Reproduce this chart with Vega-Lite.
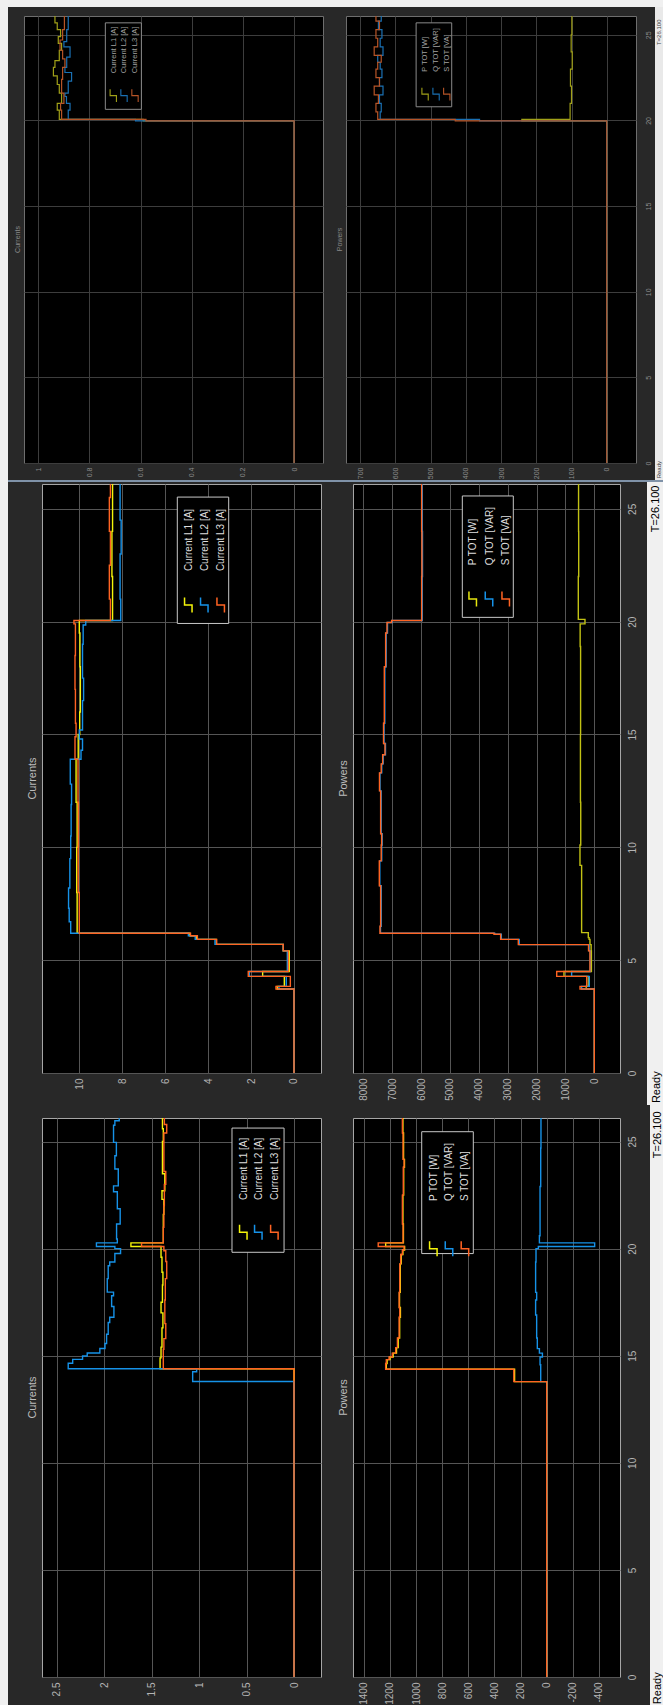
{
"$schema": "https://vega.github.io/schema/vega-lite/v6.json",
"background": "#282828",
"padding": 0,
"spacing": 0,
"config": {"view": {"stroke": null}, "font": "Liberation Sans", "axis": {"labelOverlap": false, "labelBound": false}},
"datasets": {
"botC": [
{"s":"L1","t":0,"v":0},{"s":"L1","t":14.39,"v":1.41},{"s":"L1","t":14.9,"v":1.4},{"s":"L1","t":15.4,"v":1.39},{"s":"L1","t":16.3,"v":1.38},{"s":"L1","t":17.0,"v":1.4},{"s":"L1","t":17.5,"v":1.385},{"s":"L1","t":18.3,"v":1.38},{"s":"L1","t":18.9,"v":1.39},{"s":"L1","t":19.6,"v":1.4},{"s":"L1","t":20.1,"v":1.717},{"s":"L1","t":20.27,"v":1.376},{"s":"L1","t":21.6,"v":1.37},{"s":"L1","t":22.3,"v":1.39},{"s":"L1","t":22.7,"v":1.36},{"s":"L1","t":23.5,"v":1.385},{"s":"L1","t":25.0,"v":1.376},{"s":"L1","t":25.6,"v":1.385},{"s":"L1","t":26.1,"v":1.385},
{"s":"L2","t":0,"v":0},{"s":"L2","t":13.8,"v":1.067},{"s":"L2","t":14.25,"v":1.025},{"s":"L2","t":14.39,"v":2.377},{"s":"L2","t":14.65,"v":2.33},{"s":"L2","t":14.83,"v":2.226},{"s":"L2","t":14.99,"v":2.177},{"s":"L2","t":15.13,"v":2.044},{"s":"L2","t":15.34,"v":1.99},{"s":"L2","t":15.57,"v":1.973},{"s":"L2","t":16.0,"v":1.956},{"s":"L2","t":16.55,"v":1.94},{"s":"L2","t":16.8,"v":1.896},{"s":"L2","t":17.3,"v":1.92},{"s":"L2","t":17.8,"v":1.9},{"s":"L2","t":17.97,"v":1.966},{"s":"L2","t":18.6,"v":1.956},{"s":"L2","t":19.2,"v":1.94},{"s":"L2","t":19.38,"v":1.886},{"s":"L2","t":19.77,"v":1.826},{"s":"L2","t":20.0,"v":1.886},{"s":"L2","t":20.1,"v":2.08},{"s":"L2","t":20.27,"v":1.86},{"s":"L2","t":20.45,"v":1.868},{"s":"L2","t":21.15,"v":1.83},{"s":"L2","t":21.86,"v":1.86},{"s":"L2","t":22.66,"v":1.9},{"s":"L2","t":22.93,"v":1.85},{"s":"L2","t":23.72,"v":1.886},{"s":"L2","t":24.34,"v":1.87},{"s":"L2","t":24.96,"v":1.9},{"s":"L2","t":25.76,"v":1.886},{"s":"L2","t":25.97,"v":1.84},{"s":"L2","t":26.1,"v":1.84},
{"s":"L3","t":0,"v":0},{"s":"L3","t":14.39,"v":1.376},{"s":"L3","t":15.3,"v":1.37},{"s":"L3","t":15.8,"v":1.35},{"s":"L3","t":16.5,"v":1.36},{"s":"L3","t":17.6,"v":1.355},{"s":"L3","t":18.6,"v":1.34},{"s":"L3","t":19.4,"v":1.35},{"s":"L3","t":19.9,"v":1.37},{"s":"L3","t":20.1,"v":1.605},{"s":"L3","t":20.27,"v":1.376},{"s":"L3","t":21.0,"v":1.37},{"s":"L3","t":22.0,"v":1.365},{"s":"L3","t":23.0,"v":1.35},{"s":"L3","t":23.6,"v":1.37},{"s":"L3","t":25.4,"v":1.34},{"s":"L3","t":25.8,"v":1.365},{"s":"L3","t":26.1,"v":1.365}
],
"botP": [
{"s":"P","t":0,"v":0},{"s":"P","t":13.79,"v":246},{"s":"P","t":14.37,"v":1228},{"s":"P","t":14.64,"v":1222},{"s":"P","t":14.82,"v":1200},{"s":"P","t":14.94,"v":1176},{"s":"P","t":15.12,"v":1150},{"s":"P","t":15.38,"v":1137},{"s":"P","t":15.83,"v":1126},{"s":"P","t":16.8,"v":1120},{"s":"P","t":17.25,"v":1127},{"s":"P","t":17.96,"v":1121},{"s":"P","t":19.29,"v":1114},{"s":"P","t":19.73,"v":1101},{"s":"P","t":19.94,"v":1088},{"s":"P","t":20.1,"v":1233},{"s":"P","t":20.27,"v":1097},{"s":"P","t":21.15,"v":1101},{"s":"P","t":22.5,"v":1095},{"s":"P","t":23.8,"v":1089},{"s":"P","t":24.17,"v":1096},{"s":"P","t":25.4,"v":1101},{"s":"P","t":26.1,"v":1101},
{"s":"Q","t":0,"v":0},{"s":"Q","t":13.79,"v":46},{"s":"Q","t":14.58,"v":51},{"s":"Q","t":14.94,"v":33},{"s":"Q","t":15.12,"v":56},{"s":"Q","t":15.33,"v":72},{"s":"Q","t":15.83,"v":77},{"s":"Q","t":16.9,"v":85},{"s":"Q","t":17.6,"v":77},{"s":"Q","t":17.96,"v":85},{"s":"Q","t":19.38,"v":82},{"s":"Q","t":20.0,"v":64},{"s":"Q","t":20.1,"v":-367},{"s":"Q","t":20.27,"v":56},{"s":"Q","t":20.6,"v":51},{"s":"Q","t":22.9,"v":46},{"s":"Q","t":24.7,"v":44},{"s":"Q","t":26.1,"v":44},
{"s":"S","t":0,"v":0},{"s":"S","t":13.79,"v":252},{"s":"S","t":14.37,"v":1233},{"s":"S","t":14.64,"v":1228},{"s":"S","t":14.82,"v":1207},{"s":"S","t":14.94,"v":1182},{"s":"S","t":15.12,"v":1156},{"s":"S","t":15.38,"v":1143},{"s":"S","t":15.83,"v":1130},{"s":"S","t":16.8,"v":1125},{"s":"S","t":17.25,"v":1130},{"s":"S","t":17.96,"v":1125},{"s":"S","t":19.29,"v":1118},{"s":"S","t":19.73,"v":1105},{"s":"S","t":19.94,"v":1092},{"s":"S","t":20.1,"v":1290},{"s":"S","t":20.27,"v":1100},{"s":"S","t":21.15,"v":1105},{"s":"S","t":22.5,"v":1098},{"s":"S","t":23.8,"v":1092},{"s":"S","t":24.17,"v":1100},{"s":"S","t":25.4,"v":1105},{"s":"S","t":26.1,"v":1105}
],
"midC": [
{"s":"L1","t":0,"v":0},{"s":"L1","t":3.72,"v":0.78},{"s":"L1","t":3.84,"v":0.45},{"s":"L1","t":4.28,"v":1.46},{"s":"L1","t":4.5,"v":0.22},{"s":"L1","t":5.41,"v":0.5},{"s":"L1","t":5.7,"v":3.62},{"s":"L1","t":5.92,"v":4.55},{"s":"L1","t":6.08,"v":4.85},{"s":"L1","t":6.19,"v":10.1},{"s":"L1","t":8.0,"v":10.12},{"s":"L1","t":10.0,"v":10.1},{"s":"L1","t":12.0,"v":10.15},{"s":"L1","t":13.9,"v":10.05},{"s":"L1","t":15.0,"v":9.98},{"s":"L1","t":16.0,"v":9.95},{"s":"L1","t":18.0,"v":9.97},{"s":"L1","t":19.5,"v":10.0},{"s":"L1","t":20.05,"v":8.45},{"s":"L1","t":22.0,"v":8.48},{"s":"L1","t":24.0,"v":8.45},{"s":"L1","t":26.1,"v":8.45},
{"s":"L2","t":0,"v":0},{"s":"L2","t":3.72,"v":0.7},{"s":"L2","t":3.84,"v":0.36},{"s":"L2","t":4.28,"v":2.08},{"s":"L2","t":4.5,"v":0.31},{"s":"L2","t":5.41,"v":0.5},{"s":"L2","t":5.7,"v":3.68},{"s":"L2","t":5.92,"v":4.6},{"s":"L2","t":6.08,"v":4.92},{"s":"L2","t":6.19,"v":10.4},{"s":"L2","t":6.7,"v":10.47},{"s":"L2","t":7.3,"v":10.5},{"s":"L2","t":8.2,"v":10.44},{"s":"L2","t":9.5,"v":10.4},{"s":"L2","t":10.5,"v":10.38},{"s":"L2","t":11.9,"v":10.36},{"s":"L2","t":12.8,"v":10.42},{"s":"L2","t":13.9,"v":9.92},{"s":"L2","t":14.3,"v":9.85},{"s":"L2","t":14.8,"v":10.0},{"s":"L2","t":15.2,"v":9.85},{"s":"L2","t":16.5,"v":9.8},{"s":"L2","t":17.5,"v":9.85},{"s":"L2","t":19.0,"v":9.82},{"s":"L2","t":19.85,"v":9.7},{"s":"L2","t":20.05,"v":8.07},{"s":"L2","t":21.0,"v":8.1},{"s":"L2","t":23.0,"v":8.05},{"s":"L2","t":24.5,"v":8.1},{"s":"L2","t":26.1,"v":8.1},
{"s":"L3","t":0,"v":0},{"s":"L3","t":3.72,"v":0.84},{"s":"L3","t":3.84,"v":0.17},{"s":"L3","t":4.28,"v":2.13},{"s":"L3","t":4.5,"v":0.26},{"s":"L3","t":5.41,"v":0.5},{"s":"L3","t":5.7,"v":3.6},{"s":"L3","t":5.92,"v":4.5},{"s":"L3","t":6.08,"v":4.82},{"s":"L3","t":6.19,"v":10.0},{"s":"L3","t":8.0,"v":10.05},{"s":"L3","t":10.0,"v":10.04},{"s":"L3","t":12.0,"v":10.06},{"s":"L3","t":13.9,"v":10.2},{"s":"L3","t":14.9,"v":10.15},{"s":"L3","t":15.5,"v":10.18},{"s":"L3","t":17.0,"v":10.2},{"s":"L3","t":18.5,"v":10.18},{"s":"L3","t":19.9,"v":10.25},{"s":"L3","t":20.05,"v":8.55},{"s":"L3","t":21.0,"v":8.6},{"s":"L3","t":22.5,"v":8.55},{"s":"L3","t":24.0,"v":8.6},{"s":"L3","t":25.5,"v":8.55},{"s":"L3","t":26.1,"v":8.55}
],
"midP": [
{"s":"mP","t":0,"v":0},{"s":"mP","t":3.72,"v":280},{"s":"mP","t":3.84,"v":207},{"s":"mP","t":4.28,"v":1050},{"s":"mP","t":4.5,"v":100},{"s":"mP","t":5.41,"v":110},{"s":"mP","t":5.69,"v":150},{"s":"mP","t":5.92,"v":180},{"s":"mP","t":6.0,"v":208},{"s":"mP","t":6.22,"v":439},{"s":"mP","t":9.2,"v":496},{"s":"mP","t":10.1,"v":470},{"s":"mP","t":12.0,"v":480},{"s":"mP","t":15.0,"v":475},{"s":"mP","t":18.9,"v":490},{"s":"mP","t":19.9,"v":323},{"s":"mP","t":20.1,"v":554},{"s":"mP","t":22.0,"v":540},{"s":"mP","t":24.0,"v":545},{"s":"mP","t":26.1,"v":545},
{"s":"Q","t":0,"v":0},{"s":"Q","t":3.72,"v":440},{"s":"Q","t":3.84,"v":173},{"s":"Q","t":4.28,"v":785},{"s":"Q","t":4.5,"v":140},{"s":"Q","t":5.41,"v":180},{"s":"Q","t":5.69,"v":2600},{"s":"Q","t":5.92,"v":3220},{"s":"Q","t":6.15,"v":3450},{"s":"Q","t":6.19,"v":7405},{"s":"Q","t":6.5,"v":7380},{"s":"Q","t":8.3,"v":7428},{"s":"Q","t":9.4,"v":7362},{"s":"Q","t":10.1,"v":7347},{"s":"Q","t":10.6,"v":7382},{"s":"Q","t":12.5,"v":7422},{"s":"Q","t":13.3,"v":7362},{"s":"Q","t":13.7,"v":7312},{"s":"Q","t":14.1,"v":7232},{"s":"Q","t":14.6,"v":7282},{"s":"Q","t":15.5,"v":7255},{"s":"Q","t":18.0,"v":7209},{"s":"Q","t":19.5,"v":7162},{"s":"Q","t":19.96,"v":7000},{"s":"Q","t":20.05,"v":5960},{"s":"Q","t":22.0,"v":5950},{"s":"Q","t":24.0,"v":5960},{"s":"Q","t":26.1,"v":5955},
{"s":"S","t":0,"v":0},{"s":"S","t":3.72,"v":495},{"s":"S","t":3.84,"v":263},{"s":"S","t":4.28,"v":1302},{"s":"S","t":4.5,"v":150},{"s":"S","t":5.41,"v":200},{"s":"S","t":5.69,"v":2632},{"s":"S","t":5.92,"v":3244},{"s":"S","t":6.15,"v":3475},{"s":"S","t":6.19,"v":7423},{"s":"S","t":6.5,"v":7400},{"s":"S","t":8.3,"v":7446},{"s":"S","t":9.4,"v":7380},{"s":"S","t":10.1,"v":7365},{"s":"S","t":10.6,"v":7400},{"s":"S","t":12.5,"v":7440},{"s":"S","t":13.3,"v":7380},{"s":"S","t":13.7,"v":7330},{"s":"S","t":14.1,"v":7250},{"s":"S","t":14.6,"v":7300},{"s":"S","t":15.5,"v":7273},{"s":"S","t":18.0,"v":7227},{"s":"S","t":19.5,"v":7180},{"s":"S","t":19.96,"v":7019},{"s":"S","t":20.05,"v":5980},{"s":"S","t":22.0,"v":5970},{"s":"S","t":24.0,"v":5980},{"s":"S","t":26.1,"v":5975}
],
"topC": [
{"s":"tL1","t":0,"v":0},{"s":"tL1","t":19.98,"v":0.59},{"s":"tL1","t":20.06,"v":0.918},{"s":"tL1","t":20.6,"v":0.926},{"s":"tL1","t":21.0,"v":0.909},{"s":"tL1","t":21.6,"v":0.918},{"s":"tL1","t":22.1,"v":0.926},{"s":"tL1","t":22.6,"v":0.941},{"s":"tL1","t":23.1,"v":0.935},{"s":"tL1","t":23.5,"v":0.918},{"s":"tL1","t":24.1,"v":0.909},{"s":"tL1","t":24.5,"v":0.922},{"s":"tL1","t":24.9,"v":0.913},{"s":"tL1","t":25.3,"v":0.926},{"s":"tL1","t":25.7,"v":0.935},{"s":"tL1","t":26.1,"v":0.935},
{"s":"tL2","t":0,"v":0},{"s":"tL2","t":19.98,"v":0.62},{"s":"tL2","t":20.06,"v":0.883},{"s":"tL2","t":20.6,"v":0.876},{"s":"tL2","t":21.0,"v":0.89},{"s":"tL2","t":21.4,"v":0.896},{"s":"tL2","t":21.6,"v":0.883},{"s":"tL2","t":22.3,"v":0.87},{"s":"tL2","t":22.8,"v":0.896},{"s":"tL2","t":23.1,"v":0.889},{"s":"tL2","t":23.7,"v":0.876},{"s":"tL2","t":24.3,"v":0.9},{"s":"tL2","t":24.6,"v":0.889},{"s":"tL2","t":25.3,"v":0.883},{"s":"tL2","t":26.1,"v":0.883},
{"s":"tL3","t":0,"v":0},{"s":"tL3","t":19.98,"v":0.579},{"s":"tL3","t":20.06,"v":0.909},{"s":"tL3","t":20.6,"v":0.913},{"s":"tL3","t":21.0,"v":0.9},{"s":"tL3","t":21.6,"v":0.909},{"s":"tL3","t":22.4,"v":0.905},{"s":"tL3","t":23.1,"v":0.896},{"s":"tL3","t":23.6,"v":0.905},{"s":"tL3","t":24.1,"v":0.915},{"s":"tL3","t":24.7,"v":0.905},{"s":"tL3","t":25.3,"v":0.898},{"s":"tL3","t":26.1,"v":0.898}
],
"topP": [
{"s":"tP","t":0,"v":0},{"s":"tP","t":19.98,"v":241},{"s":"tP","t":20.06,"v":104},{"s":"tP","t":21.0,"v":100},{"s":"tP","t":22.0,"v":103},{"s":"tP","t":23.0,"v":98},{"s":"tP","t":24.0,"v":101},{"s":"tP","t":25.0,"v":99},{"s":"tP","t":26.1,"v":100},
{"s":"tQ","t":0,"v":0},{"s":"tQ","t":19.98,"v":361},{"s":"tQ","t":20.06,"v":643},{"s":"tQ","t":20.5,"v":640},{"s":"tQ","t":21.0,"v":645},{"s":"tQ","t":21.5,"v":635},{"s":"tQ","t":22.0,"v":645},{"s":"tQ","t":22.5,"v":638},{"s":"tQ","t":23.0,"v":643},{"s":"tQ","t":23.4,"v":650},{"s":"tQ","t":23.8,"v":635},{"s":"tQ","t":24.3,"v":643},{"s":"tQ","t":24.8,"v":638},{"s":"tQ","t":25.3,"v":648},{"s":"tQ","t":25.8,"v":640},{"s":"tQ","t":26.1,"v":640},
{"s":"tS","t":0,"v":0},{"s":"tS","t":19.98,"v":430},{"s":"tS","t":20.06,"v":650},{"s":"tS","t":20.5,"v":655},{"s":"tS","t":21.0,"v":648},{"s":"tS","t":21.5,"v":660},{"s":"tS","t":22.0,"v":645},{"s":"tS","t":22.5,"v":655},{"s":"tS","t":23.0,"v":650},{"s":"tS","t":23.4,"v":640},{"s":"tS","t":23.8,"v":660},{"s":"tS","t":24.3,"v":650},{"s":"tS","t":24.8,"v":655},{"s":"tS","t":25.3,"v":645},{"s":"tS","t":25.8,"v":655},{"s":"tS","t":26.1,"v":655}
]
},
"vconcat": [
{"columns": 7, "spacing": 0, "bounds": "flush", "align": "each", "concat": [
{"width":8,"height":7,"data":{"values":[]},"mark":"point","encoding":{},"view":{"fill":"#f0f0f0"}},
{"width":16,"height":7,"data":{"values":[]},"mark":"point","encoding":{},"view":{"fill":"#f0f0f0"}},
{"width":299,"height":7,"data":{"values":[]},"mark":"point","encoding":{},"view":{"fill":"#f0f0f0"}},
{"width":23,"height":7,"data":{"values":[]},"mark":"point","encoding":{},"view":{"fill":"#f0f0f0"}},
{"width":290,"height":7,"data":{"values":[]},"mark":"point","encoding":{},"view":{"fill":"#f0f0f0"}},
{"width":19,"height":7,"data":{"values":[]},"mark":"point","encoding":{},"view":{"fill":"#f0f0f0"}},
{"width":8,"height":7,"data":{"values":[]},"mark":"point","encoding":{},"view":{"fill":"#f0f0f0"}},

{"width":8,"height":9,"data":{"values":[]},"mark":"point","encoding":{},"view":{"fill":"#f0f0f0"}},
{"width":16,"height":9,"data":{"values":[]},"mark":"point","encoding":{}},
{"width":299,"height":9,"data":{"values":[]},"mark":"point","encoding":{}},
{"width":23,"height":9,"data":{"values":[]},"mark":"point","encoding":{}},
{"width":290,"height":9,"data":{"values":[]},"mark":"point","encoding":{}},
{"width":19,"height":9,"data":{"values":[]},"mark":"point","encoding":{}},
{"width":8,"height":9,"data":{"values":[]},"mark":"point","encoding":{},"view":{"fill":"#e9e9e9"}},

{"width":8,"height":447,"data":{"values":[]},"mark":"point","encoding":{},"view":{"fill":"#f0f0f0"}},
{"width":16,"height":447,"data":{"values":[]},"mark":"point","encoding":{}},
{"width":299,"height":447,"view":{"fill":"#000000","stroke":"#6e6e6e"},
 "title":{"text":"Currents","orient":"left","frame":"group","anchor":"middle","offset":3,"fontSize":7,"fontWeight":"normal","color":"#8a8a8a"},
 "layer":[
  {"data":{"name":"topC"},"mark":{"type":"line","interpolate":"step-before","strokeWidth":1.2,"clip":true},
   "encoding":{
    "x":{"field":"v","type":"quantitative","scale":{"domain":[-0.113,1.056],"reverse":true,"nice":false,"zero":false},
     "axis":{"title":null,"values":[0,0.2,0.4,0.6,0.8,1],"tickCount":40,"labelExpr":"'' + datum.value","labelAngle":270,"labelAlign":"right","labelBaseline":"middle","labelPadding":4,"ticks":false,"domain":false,"grid":true,"gridColor":"#3d3d3d","labelColor":"#8c8c8c","labelFontSize":7,"labelFlush":false,"labelOverlap":false}},
    "y":{"field":"t","type":"quantitative","scale":{"domain":[0,26.1],"nice":false,"zero":false},
     "axis":{"title":null,"orient":"right","values":[0,5,10,15,20,25],"tickCount":40,"labels":false,"ticks":false,"domain":false,"grid":true,"gridColor":"#3d3d3d"}},
    "color":{"field":"s","type":"nominal","legend":null,"scale":{"domain":["L1","L2","L3","P","Q","S","tL1","tL2","tL3","tP","tQ","tS","mP"],"range":["#f5f50a","#1692e8","#ff6322","#f5f50a","#1692e8","#ff6322","#a0a018","#1a70b3","#b65427","#a0a018","#1a70b3","#b65427","#c2c214"]}},
    "order":{"field":"t","type":"quantitative"}}},
  {"data":{"values":[{}]},"mark":{"type":"rect","fill":"#000000","stroke":"#8a8a8a","strokeWidth":1},"encoding":{"x":{"datum":0.738},"x2":{"datum":0.597},"y":{"datum":25.7},"y2":{"datum":20.65}}},
  {"data":{"values":[{}]},"mark":{"type":"text","angle":270,"align":"left","baseline":"top","fontSize":7.5,"lineHeight":10.8,"color":"#a0a0a0","text":["Current L1 [A]","Current L2 [A]","Current L3 [A]"]},"encoding":{"x":{"datum":0.721},"y":{"datum":22.75}}},
  {"data":{"values":[{}]},"mark":{"type":"point","shape":"M -0.5 -1 L -0.5 0 L 0.5 0 L 0.5 1","filled":false,"size":160,"strokeWidth":1.1,"opacity":1,"color":"#a0a018"},"encoding":{"x":{"datum":0.707},"y":{"datum":21.45}}},
  {"data":{"values":[{}]},"mark":{"type":"point","shape":"M -0.5 -1 L -0.5 0 L 0.5 0 L 0.5 1","filled":false,"size":160,"strokeWidth":1.1,"opacity":1,"color":"#1a70b3"},"encoding":{"x":{"datum":0.665},"y":{"datum":21.45}}},
  {"data":{"values":[{}]},"mark":{"type":"point","shape":"M -0.5 -1 L -0.5 0 L 0.5 0 L 0.5 1","filled":false,"size":160,"strokeWidth":1.1,"opacity":1,"color":"#b65427"},"encoding":{"x":{"datum":0.622},"y":{"datum":21.45}}}
 ]},
{"width":23,"height":447,"data":{"values":[]},"mark":"point","encoding":{}},
{"width":290,"height":447,"view":{"fill":"#000000","stroke":"#6e6e6e"},
 "title":{"text":"Powers","orient":"left","frame":"group","anchor":"middle","offset":3,"fontSize":7,"fontWeight":"normal","color":"#8a8a8a"},
 "layer":[
  {"data":{"name":"topP"},"mark":{"type":"line","interpolate":"step-before","strokeWidth":1.2,"clip":true},
   "encoding":{
    "x":{"field":"v","type":"quantitative","scale":{"domain":[-83,740],"reverse":true,"nice":false,"zero":false},
     "axis":{"title":null,"values":[0,100,200,300,400,500,600,700],"tickCount":40,"labelExpr":"'' + datum.value","labelAngle":270,"labelAlign":"right","labelBaseline":"middle","labelPadding":4,"ticks":false,"domain":false,"grid":true,"gridColor":"#3d3d3d","labelColor":"#8c8c8c","labelFontSize":7,"labelFlush":false,"labelOverlap":false}},
    "y":{"field":"t","type":"quantitative","scale":{"domain":[0,26.1],"nice":false,"zero":false},
     "axis":{"title":null,"orient":"right","values":[0,5,10,15,20,25],"tickCount":40,"labelExpr":"'' + datum.value","labelAngle":270,"labelAlign":"center","labelBaseline":"top","labelPadding":8,"ticks":false,"domain":false,"grid":true,"gridColor":"#3d3d3d","labelColor":"#8c8c8c","labelFontSize":7,"labelFlush":false,"labelOverlap":false}},
    "color":{"field":"s","type":"nominal","legend":null,"scale":{"domain":["L1","L2","L3","P","Q","S","tL1","tL2","tL3","tP","tQ","tS","mP"],"range":["#f5f50a","#1692e8","#ff6322","#f5f50a","#1692e8","#ff6322","#a0a018","#1a70b3","#b65427","#a0a018","#1a70b3","#b65427","#c2c214"]}},
    "order":{"field":"t","type":"quantitative"}}},
  {"data":{"values":[{}]},"mark":{"type":"rect","fill":"#000000","stroke":"#8a8a8a","strokeWidth":1},"encoding":{"x":{"datum":541},"x2":{"datum":440},"y":{"datum":25.7},"y2":{"datum":20.8}}},
  {"data":{"values":[{}]},"mark":{"type":"text","angle":270,"align":"left","baseline":"top","fontSize":7.5,"lineHeight":10.8,"color":"#a0a0a0","text":["P TOT [W]","Q TOT [VAR]","S TOT [VA]"]},"encoding":{"x":{"datum":526},"y":{"datum":22.84}}},
  {"data":{"values":[{}]},"mark":{"type":"point","shape":"M -0.5 -1 L -0.5 0 L 0.5 0 L 0.5 1","filled":false,"size":160,"strokeWidth":1.1,"opacity":1,"color":"#a0a018"},"encoding":{"x":{"datum":515.6},"y":{"datum":21.54}}},
  {"data":{"values":[{}]},"mark":{"type":"point","shape":"M -0.5 -1 L -0.5 0 L 0.5 0 L 0.5 1","filled":false,"size":160,"strokeWidth":1.1,"opacity":1,"color":"#1a70b3"},"encoding":{"x":{"datum":484.4},"y":{"datum":21.54}}},
  {"data":{"values":[{}]},"mark":{"type":"point","shape":"M -0.5 -1 L -0.5 0 L 0.5 0 L 0.5 1","filled":false,"size":160,"strokeWidth":1.1,"opacity":1,"color":"#b65427"},"encoding":{"x":{"datum":454},"y":{"datum":21.54}}}
 ]},
{"width":19,"height":447,"data":{"values":[]},"mark":"point","encoding":{}},
{"width":8,"height":447,"view":{"fill":"#e9e9e9"},"data":{"values":[{}]},"mark":{"type":"text","angle":270,"align":"left","baseline":"middle","fontSize":6,"color":"#404040","text":"T=26.100"},"encoding":{"x":{"datum":0.5,"scale":{"domain":[0,1]},"axis":null},"y":{"datum":0.935,"scale":{"domain":[0,1]},"axis":null}}},

{"width":8,"height":17,"data":{"values":[]},"mark":"point","encoding":{},"view":{"fill":"#f0f0f0"}},
{"width":16,"height":17,"data":{"values":[]},"mark":"point","encoding":{}},
{"width":299,"height":17,"data":{"values":[]},"mark":"point","encoding":{}},
{"width":23,"height":17,"data":{"values":[]},"mark":"point","encoding":{}},
{"width":290,"height":17,"data":{"values":[]},"mark":"point","encoding":{}},
{"width":19,"height":17,"data":{"values":[]},"mark":"point","encoding":{}},
{"width":8,"height":17,"view":{"fill":"#e9e9e9"},"data":{"values":[{}]},"mark":{"type":"text","angle":270,"align":"left","baseline":"middle","fontSize":6,"color":"#404040","text":"Ready"},"encoding":{"x":{"datum":0.5,"scale":{"domain":[0,1]},"axis":null},"y":{"datum":0.1,"scale":{"domain":[0,1]},"axis":null}}},

{"width":8,"height":2,"data":{"values":[]},"mark":"point","encoding":{},"view":{"fill":"#f0f0f0"}},
{"width":16,"height":2,"data":{"values":[]},"mark":"point","encoding":{},"view":{"fill":"#7f92a8"}},
{"width":299,"height":2,"data":{"values":[]},"mark":"point","encoding":{},"view":{"fill":"#7f92a8"}},
{"width":23,"height":2,"data":{"values":[]},"mark":"point","encoding":{},"view":{"fill":"#7f92a8"}},
{"width":290,"height":2,"data":{"values":[]},"mark":"point","encoding":{},"view":{"fill":"#7f92a8"}},
{"width":19,"height":2,"data":{"values":[]},"mark":"point","encoding":{},"view":{"fill":"#7f92a8"}},
{"width":8,"height":2,"data":{"values":[]},"mark":"point","encoding":{},"view":{"fill":"#7f92a8"}}
]},

{"columns": 7, "spacing": 0, "bounds": "flush", "align": "each", "concat": [
{"width":8,"height":2,"data":{"values":[]},"mark":"point","encoding":{},"view":{"fill":"#f0f0f0"}},
{"width":34,"height":2,"data":{"values":[]},"mark":"point","encoding":{}},
{"width":279,"height":2,"data":{"values":[]},"mark":"point","encoding":{}},
{"width":32,"height":2,"data":{"values":[]},"mark":"point","encoding":{}},
{"width":267,"height":2,"data":{"values":[]},"mark":"point","encoding":{}},
{"width":27,"height":2,"data":{"values":[]},"mark":"point","encoding":{}},
{"width":16,"height":2,"data":{"values":[]},"mark":"point","encoding":{},"view":{"fill":"#f0f0f0"}},

{"width":8,"height":589,"data":{"values":[]},"mark":"point","encoding":{},"view":{"fill":"#f0f0f0"}},
{"width":34,"height":589,"data":{"values":[]},"mark":"point","encoding":{}},
{"width":279,"height":589,"view":{"fill":"#000000","stroke":"#a6a6a6"},
 "title":{"text":"Currents","orient":"left","frame":"group","anchor":"middle","offset":4,"fontSize":11,"fontWeight":"normal","color":"#bcbcbc"},
 "layer":[
  {"data":{"name":"midC"},"mark":{"type":"line","interpolate":"step-before","strokeWidth":1.4,"clip":true},
   "encoding":{
    "x":{"field":"v","type":"quantitative","scale":{"domain":[-1.258,11.737],"reverse":true,"nice":false,"zero":false},
     "axis":{"title":null,"values":[0,2,4,6,8,10],"tickCount":40,"labelExpr":"'' + datum.value","labelAngle":270,"labelAlign":"right","labelBaseline":"middle","labelPadding":5,"ticks":false,"domain":false,"grid":true,"gridColor":"#555555","labelColor":"#b4b4b4","labelFontSize":10,"labelFlush":false,"labelOverlap":false}},
    "y":{"field":"t","type":"quantitative","scale":{"domain":[0,26.1],"nice":false,"zero":false},
     "axis":{"title":null,"orient":"right","values":[0,5,10,15,20,25],"tickCount":40,"labels":false,"ticks":false,"domain":false,"grid":true,"gridColor":"#555555"}},
    "color":{"field":"s","type":"nominal","legend":null,"scale":{"domain":["L1","L2","L3","P","Q","S","tL1","tL2","tL3","tP","tQ","tS","mP"],"range":["#f5f50a","#1692e8","#ff6322","#f5f50a","#1692e8","#ff6322","#a0a018","#1a70b3","#b65427","#a0a018","#1a70b3","#b65427","#c2c214"]}},
    "order":{"field":"t","type":"quantitative"}}},
  {"data":{"values":[{}]},"mark":{"type":"rect","fill":"#000000","stroke":"#c8c8c8","strokeWidth":1},"encoding":{"x":{"datum":5.435},"x2":{"datum":3.041},"y":{"datum":25.52},"y2":{"datum":19.92}}},
  {"data":{"values":[{}]},"mark":{"type":"text","angle":270,"align":"left","baseline":"top","fontSize":10,"lineHeight":16.2,"color":"#dedede","text":["Current L1 [A]","Current L2 [A]","Current L3 [A]"]},"encoding":{"x":{"datum":5.133},"y":{"datum":22.24}}},
  {"data":{"values":[{}]},"mark":{"type":"point","shape":"M -0.5 -1 L -0.5 0 L 0.5 0 L 0.5 1","filled":false,"size":225,"strokeWidth":1.5,"opacity":1,"color":"#f5f50a"},"encoding":{"x":{"datum":4.923},"y":{"datum":20.74}}},
  {"data":{"values":[{}]},"mark":{"type":"point","shape":"M -0.5 -1 L -0.5 0 L 0.5 0 L 0.5 1","filled":false,"size":225,"strokeWidth":1.5,"opacity":1,"color":"#1692e8"},"encoding":{"x":{"datum":4.178},"y":{"datum":20.74}}},
  {"data":{"values":[{}]},"mark":{"type":"point","shape":"M -0.5 -1 L -0.5 0 L 0.5 0 L 0.5 1","filled":false,"size":225,"strokeWidth":1.5,"opacity":1,"color":"#ff6322"},"encoding":{"x":{"datum":3.414},"y":{"datum":20.74}}}
 ]},
{"width":32,"height":589,"data":{"values":[]},"mark":"point","encoding":{}},
{"width":267,"height":589,"view":{"fill":"#000000","stroke":"#a6a6a6"},
 "title":{"text":"Powers","orient":"left","frame":"group","anchor":"middle","offset":4,"fontSize":11,"fontWeight":"normal","color":"#bcbcbc"},
 "layer":[
  {"data":{"name":"midP"},"mark":{"type":"line","interpolate":"step-before","strokeWidth":1.4,"clip":true},
   "encoding":{
    "x":{"field":"v","type":"quantitative","scale":{"domain":[-890,8357],"reverse":true,"nice":false,"zero":false},
     "axis":{"title":null,"values":[0,1000,2000,3000,4000,5000,6000,7000,8000],"tickCount":40,"labelExpr":"'' + datum.value","labelAngle":270,"labelAlign":"right","labelBaseline":"middle","labelPadding":5,"ticks":false,"domain":false,"grid":true,"gridColor":"#555555","labelColor":"#b4b4b4","labelFontSize":10,"labelFlush":false,"labelOverlap":false}},
    "y":{"field":"t","type":"quantitative","scale":{"domain":[0,26.1],"nice":false,"zero":false},
     "axis":{"title":null,"orient":"right","values":[0,5,10,15,20,25],"tickCount":40,"labelExpr":"'' + datum.value","labelAngle":270,"labelAlign":"center","labelBaseline":"top","labelPadding":7,"ticks":false,"domain":false,"grid":true,"gridColor":"#555555","labelColor":"#b4b4b4","labelFontSize":10,"labelFlush":false,"labelOverlap":false}},
    "color":{"field":"s","type":"nominal","legend":null,"scale":{"domain":["L1","L2","L3","P","Q","S","tL1","tL2","tL3","tP","tQ","tS","mP"],"range":["#f5f50a","#1692e8","#ff6322","#f5f50a","#1692e8","#ff6322","#a0a018","#1a70b3","#b65427","#a0a018","#1a70b3","#b65427","#c2c214"]}},
    "order":{"field":"t","type":"quantitative"}}},
  {"data":{"values":[{}]},"mark":{"type":"rect","fill":"#000000","stroke":"#c8c8c8","strokeWidth":1},"encoding":{"x":{"datum":4571},"x2":{"datum":2805},"y":{"datum":25.57},"y2":{"datum":20.19}}},
  {"data":{"values":[{}]},"mark":{"type":"text","angle":270,"align":"left","baseline":"top","fontSize":10,"lineHeight":16.3,"color":"#dedede","text":["P TOT [W]","Q TOT [VAR]","S TOT [VA]"]},"encoding":{"x":{"datum":4367},"y":{"datum":22.5}}},
  {"data":{"values":[{}]},"mark":{"type":"point","shape":"M -0.5 -1 L -0.5 0 L 0.5 0 L 0.5 1","filled":false,"size":225,"strokeWidth":1.5,"opacity":1,"color":"#e6e60f"},"encoding":{"x":{"datum":4211},"y":{"datum":21.0}}},
  {"data":{"values":[{}]},"mark":{"type":"point","shape":"M -0.5 -1 L -0.5 0 L 0.5 0 L 0.5 1","filled":false,"size":225,"strokeWidth":1.5,"opacity":1,"color":"#1692e8"},"encoding":{"x":{"datum":3647},"y":{"datum":21.0}}},
  {"data":{"values":[{}]},"mark":{"type":"point","shape":"M -0.5 -1 L -0.5 0 L 0.5 0 L 0.5 1","filled":false,"size":225,"strokeWidth":1.5,"opacity":1,"color":"#ff6322"},"encoding":{"x":{"datum":3068},"y":{"datum":21.0}}}
 ]},
{"width":27,"height":589,"data":{"values":[]},"mark":"point","encoding":{}},
{"width":16,"height":589,"view":{"fill":"#f0f0f0"},"data":{"values":[{}]},"mark":{"type":"text","angle":270,"align":"left","baseline":"middle","fontSize":11,"color":"#000000","text":"T=26.100"},"encoding":{"x":{"datum":0.55,"scale":{"domain":[0,1]},"axis":null},"y":{"datum":0.918,"scale":{"domain":[0,1]},"axis":null}}},

{"width":8,"height":32,"data":{"values":[]},"mark":"point","encoding":{},"view":{"fill":"#f0f0f0"}},
{"width":34,"height":32,"data":{"values":[]},"mark":"point","encoding":{}},
{"width":279,"height":32,"data":{"values":[]},"mark":"point","encoding":{}},
{"width":32,"height":32,"data":{"values":[]},"mark":"point","encoding":{}},
{"width":267,"height":32,"data":{"values":[]},"mark":"point","encoding":{}},
{"width":27,"height":32,"data":{"values":[]},"mark":"point","encoding":{}},
{"width":16,"height":32,"view":{"fill":"#f0f0f0"},"data":{"values":[{}]},"mark":{"type":"text","angle":270,"align":"left","baseline":"middle","fontSize":11,"color":"#000000","text":"Ready"},"encoding":{"x":{"datum":0.6,"scale":{"domain":[0,1]},"axis":null},"y":{"datum":0.06,"scale":{"domain":[0,1]},"axis":null}}}
]},

{"columns": 7, "spacing": 0, "bounds": "flush", "align": "each", "concat": [
{"width":8,"height":13,"data":{"values":[]},"mark":"point","encoding":{},"view":{"fill":"#f0f0f0"}},
{"width":34,"height":13,"data":{"values":[]},"mark":"point","encoding":{}},
{"width":279,"height":13,"data":{"values":[]},"mark":"point","encoding":{}},
{"width":32,"height":13,"data":{"values":[]},"mark":"point","encoding":{}},
{"width":267,"height":13,"data":{"values":[]},"mark":"point","encoding":{}},
{"width":30,"height":13,"data":{"values":[]},"mark":"point","encoding":{}},
{"width":13,"height":13,"data":{"values":[]},"mark":"point","encoding":{},"view":{"fill":"#f0f0f0"}},

{"width":8,"height":559,"data":{"values":[]},"mark":"point","encoding":{},"view":{"fill":"#f0f0f0"}},
{"width":34,"height":559,"data":{"values":[]},"mark":"point","encoding":{}},
{"width":279,"height":559,"view":{"fill":"#000000","stroke":"#a6a6a6"},
 "title":{"text":"Currents","orient":"left","frame":"group","anchor":"middle","offset":4,"fontSize":11,"fontWeight":"normal","color":"#bcbcbc"},
 "layer":[
  {"data":{"name":"botC"},"mark":{"type":"line","interpolate":"step-before","strokeWidth":1.4,"clip":true},
   "encoding":{
    "x":{"field":"v","type":"quantitative","scale":{"domain":[-0.284,2.653],"reverse":true,"nice":false,"zero":false},
     "axis":{"title":null,"values":[0,0.5,1,1.5,2,2.5],"tickCount":40,"labelExpr":"'' + datum.value","labelAngle":270,"labelAlign":"right","labelBaseline":"middle","labelPadding":5,"ticks":false,"domain":false,"grid":true,"gridColor":"#555555","labelColor":"#b4b4b4","labelFontSize":10,"labelFlush":false,"labelOverlap":false}},
    "y":{"field":"t","type":"quantitative","scale":{"domain":[0,26.1],"nice":false,"zero":false},
     "axis":{"title":null,"orient":"right","values":[0,5,10,15,20,25],"tickCount":40,"labels":false,"ticks":false,"domain":false,"grid":true,"gridColor":"#555555"}},
    "color":{"field":"s","type":"nominal","legend":null,"scale":{"domain":["L1","L2","L3","P","Q","S","tL1","tL2","tL3","tP","tQ","tS","mP"],"range":["#f5f50a","#1692e8","#ff6322","#f5f50a","#1692e8","#ff6322","#a0a018","#1a70b3","#b65427","#a0a018","#1a70b3","#b65427","#c2c214"]}},
    "order":{"field":"t","type":"quantitative"}}},
  {"data":{"values":[{}]},"mark":{"type":"rect","fill":"#000000","stroke":"#c8c8c8","strokeWidth":1},"encoding":{"x":{"datum":0.653},"x2":{"datum":0.105},"y":{"datum":25.63},"y2":{"datum":19.83}}},
  {"data":{"values":[{}]},"mark":{"type":"text","angle":270,"align":"left","baseline":"top","fontSize":10,"lineHeight":15.5,"color":"#dedede","text":["Current L1 [A]","Current L2 [A]","Current L3 [A]"]},"encoding":{"x":{"datum":0.581},"y":{"datum":22.27}}},
  {"data":{"values":[{}]},"mark":{"type":"point","shape":"M -0.5 -1 L -0.5 0 L 0.5 0 L 0.5 1","filled":false,"size":225,"strokeWidth":1.5,"opacity":1,"color":"#f5f50a"},"encoding":{"x":{"datum":0.534},"y":{"datum":20.77}}},
  {"data":{"values":[{}]},"mark":{"type":"point","shape":"M -0.5 -1 L -0.5 0 L 0.5 0 L 0.5 1","filled":false,"size":225,"strokeWidth":1.5,"opacity":1,"color":"#1692e8"},"encoding":{"x":{"datum":0.376},"y":{"datum":20.77}}},
  {"data":{"values":[{}]},"mark":{"type":"point","shape":"M -0.5 -1 L -0.5 0 L 0.5 0 L 0.5 1","filled":false,"size":225,"strokeWidth":1.5,"opacity":1,"color":"#ff6322"},"encoding":{"x":{"datum":0.207},"y":{"datum":20.77}}}
 ]},
{"width":32,"height":559,"data":{"values":[]},"mark":"point","encoding":{}},
{"width":267,"height":559,"view":{"fill":"#000000","stroke":"#a6a6a6"},
 "title":{"text":"Powers","orient":"left","frame":"group","anchor":"middle","offset":4,"fontSize":11,"fontWeight":"normal","color":"#bcbcbc"},
 "layer":[
  {"data":{"name":"botP"},"mark":{"type":"line","interpolate":"step-before","strokeWidth":1.4,"clip":true},
   "encoding":{
    "x":{"field":"v","type":"quantitative","scale":{"domain":[-561,1483],"reverse":true,"nice":false,"zero":false},
     "axis":{"title":null,"values":[-400,-200,0,200,400,600,800,1000,1200,1400],"tickCount":40,"labelExpr":"'' + datum.value","labelAngle":270,"labelAlign":"right","labelBaseline":"middle","labelPadding":5,"ticks":false,"domain":false,"grid":true,"gridColor":"#555555","labelColor":"#b4b4b4","labelFontSize":10,"labelFlush":false,"labelOverlap":false}},
    "y":{"field":"t","type":"quantitative","scale":{"domain":[0,26.1],"nice":false,"zero":false},
     "axis":{"title":null,"orient":"right","values":[0,5,10,15,20,25],"tickCount":40,"labelExpr":"'' + datum.value","labelAngle":270,"labelAlign":"center","labelBaseline":"top","labelPadding":7,"ticks":false,"domain":false,"grid":true,"gridColor":"#555555","labelColor":"#b4b4b4","labelFontSize":10,"labelFlush":false,"labelOverlap":false}},
    "color":{"field":"s","type":"nominal","legend":null,"scale":{"domain":["L1","L2","L3","P","Q","S","tL1","tL2","tL3","tP","tQ","tS","mP"],"range":["#f5f50a","#1692e8","#ff6322","#f5f50a","#1692e8","#ff6322","#a0a018","#1a70b3","#b65427","#a0a018","#1a70b3","#b65427","#c2c214"]}},
    "order":{"field":"t","type":"quantitative"}}},
  {"data":{"values":[{}]},"mark":{"type":"rect","fill":"#000000","stroke":"#c8c8c8","strokeWidth":1},"encoding":{"x":{"datum":957},"x2":{"datum":562},"y":{"datum":25.46},"y2":{"datum":19.77}}},
  {"data":{"values":[{}]},"mark":{"type":"text","angle":270,"align":"left","baseline":"top","fontSize":10,"lineHeight":15.7,"color":"#dedede","text":["P TOT [W]","Q TOT [VAR]","S TOT [VA]"]},"encoding":{"x":{"datum":905},"y":{"datum":22.22}}},
  {"data":{"values":[{}]},"mark":{"type":"point","shape":"M -0.5 -1 L -0.5 0 L 0.5 0 L 0.5 1","filled":false,"size":225,"strokeWidth":1.5,"opacity":1,"color":"#f5f50a"},"encoding":{"x":{"datum":868},"y":{"datum":20.0}}},
  {"data":{"values":[{}]},"mark":{"type":"point","shape":"M -0.5 -1 L -0.5 0 L 0.5 0 L 0.5 1","filled":false,"size":225,"strokeWidth":1.5,"opacity":1,"color":"#1692e8"},"encoding":{"x":{"datum":748},"y":{"datum":20.0}}},
  {"data":{"values":[{}]},"mark":{"type":"point","shape":"M -0.5 -1 L -0.5 0 L 0.5 0 L 0.5 1","filled":false,"size":225,"strokeWidth":1.5,"opacity":1,"color":"#ff6322"},"encoding":{"x":{"datum":626},"y":{"datum":20.0}}}
 ]},
{"width":30,"height":559,"data":{"values":[]},"mark":"point","encoding":{}},
{"width":13,"height":559,"view":{"fill":"#f0f0f0"},"data":{"values":[{}]},"mark":{"type":"text","angle":270,"align":"left","baseline":"middle","fontSize":11,"color":"#000000","text":"T=26.100"},"encoding":{"x":{"datum":0.6,"scale":{"domain":[0,1]},"axis":null},"y":{"datum":0.928,"scale":{"domain":[0,1]},"axis":null}}},

{"width":8,"height":28,"data":{"values":[]},"mark":"point","encoding":{},"view":{"fill":"#f0f0f0"}},
{"width":34,"height":28,"data":{"values":[]},"mark":"point","encoding":{}},
{"width":279,"height":28,"data":{"values":[]},"mark":"point","encoding":{}},
{"width":32,"height":28,"data":{"values":[]},"mark":"point","encoding":{}},
{"width":267,"height":28,"data":{"values":[]},"mark":"point","encoding":{}},
{"width":30,"height":28,"data":{"values":[]},"mark":"point","encoding":{}},
{"width":13,"height":28,"view":{"fill":"#f0f0f0"},"data":{"values":[{}]},"mark":{"type":"text","angle":270,"align":"left","baseline":"middle","fontSize":11,"color":"#000000","text":"Ready"},"encoding":{"x":{"datum":0.6,"scale":{"domain":[0,1]},"axis":null},"y":{"datum":0.03,"scale":{"domain":[0,1]},"axis":null}}}
]}
]
}
